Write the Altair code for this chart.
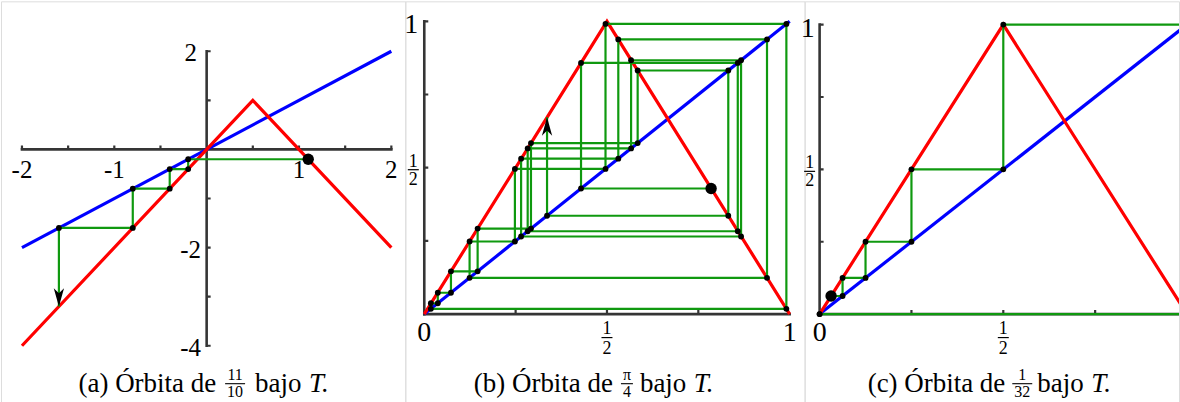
import altair as alt
import pandas as pd

# ------------------------------------------------------------------ values
# Orbits of the tent map T(x) = 2x (x <= 1/2), 2 - 2x (x > 1/2)
orbit_a = [1.1, -0.2, -0.4, -0.8, -1.6, -3.2]                  # x0 = 11/10
orbit_b = [0.785, 0.429, 0.858, 0.283, 0.566, 0.867, 0.265, 0.531,
           0.938, 0.124, 0.248, 0.496, 0.991, 0.018, 0.037, 0.073,
           0.146, 0.292, 0.584, 0.832, 0.336, 0.672]            # x0 = pi/4
orbit_c = [0.03125, 0.0625, 0.125, 0.25, 0.5, 1.0, 0.0, 0.0]    # x0 = 1/32

# Graphs of T and of the identity (polyline vertices)
tent_wide_x = [-2.0, 0.5, 2.0]
tent_wide_y = [-4.0, 1.0, -2.0]
ident_wide = [-2.0, 2.0]
tent_unit_x = [0.0, 0.5, 1.0]
tent_unit_y = [0.0, 1.0, 0.0]
ident_unit = [0.0, 1.0]

# Axis extents, ticks and tick labels
wide_x_range = [-2.0, 2.0]
wide_y_range = [-4.0, 2.0]
wide_xticks = [-2, -1.5, -1, -0.5, 0.5, 1, 1.5, 2]
wide_yticks = [-4, -3, -2, -1, 1, 2]
wide_xlabel_at = [-2, -1, 1, 2]
wide_xlabels = ["-2", "-1", "1", "2"]
wide_ylabel_at = [2, -2, -4]
wide_ylabels = ["2", "-2", "-4"]

unit_range = [0.0, 1.0]
unit_xticks = [0.25, 0.5, 0.75]
unit_yticks = [0.25, 0.5, 0.75, 1.0]
unit_xlabel_at = [0.0, 1.0]
unit_xlabels = ["0", "1"]
unit_ylabel_at = [1.0]
unit_ylabels = ["1"]
half_at = [0.5]
half_num = ["1"]
half_den = ["2"]

captions = ["(a) Órbita de", "(b) Órbita de", "(c) Órbita de"]
caption_num = ["11", "π", "1"]
caption_den = ["10", "4", "32"]
caption_tail = ["bajo", "bajo", "bajo"]
caption_var = ["T.", "T.", "T."]

# ------------------------------------------------------------------ style
FONT = "Liberation Serif"
RED, BLUE, GREEN, AXIS = "#ff0000", "#0000ff", "#0f990f", "#353535"
H = 402
TICK_PX = 4


def pixel_domain(v0, p0, v1, p1, size, vertical=False):
    """Domain whose linear map onto [0, size] px sends v0->p0 and v1->p1."""
    k = (v1 - v0) / (p1 - p0)
    at = lambda p: v0 + (p - p0) * k
    return [at(size), at(0)] if vertical else [at(0), at(size)]


def cobweb(orbit):
    xs, ys = [orbit[0]], [orbit[1]]
    for a, b in zip(orbit[1:-1], orbit[2:]):
        xs += [a, a]
        ys += [a, b]
    return pd.DataFrame({"x": xs, "y": ys, "k": range(len(xs))})


def build(p):
    xs = alt.Scale(domain=p["xdom"], nice=False, zero=False)
    ys = alt.Scale(domain=p["ydom"], nice=False, zero=False)
    X = lambda f: alt.X(f, type="quantitative", scale=xs, axis=None)
    Y = lambda f: alt.Y(f, type="quantitative", scale=ys, axis=None)
    layers = []

    # axes drawn as rules, ticks pointing inward
    tx = TICK_PX / p["ppx"]
    ty = TICK_PX / p["ppy"]
    (x_lo, x_hi), (y_lo, y_hi) = p["xr"], p["yr"]
    axis_df = pd.DataFrame({"x": [x_lo, 0.0], "y": [0.0, y_lo],
                            "x2": [x_hi, 0.0], "y2": [0.0, y_hi]})
    xt, yt = list(p["xticks"]), list(p["yticks"])
    tick_df = pd.DataFrame({"x": xt + [0.0] * len(yt),
                            "y": [0.0] * len(xt) + yt,
                            "x2": xt + [tx] * len(yt),
                            "y2": [ty] * len(xt) + yt})
    layers.append(alt.Chart(axis_df).mark_rule(color=AXIS, strokeWidth=2.6, strokeCap="square", clip=True)
                  .encode(x=X("x"), y=Y("y"), x2="x2", y2="y2"))
    layers.append(alt.Chart(tick_df).mark_rule(color=AXIS, strokeWidth=2.2, clip=True)
                  .encode(x=X("x"), y=Y("y"), x2="x2", y2="y2"))

    # identity and tent map
    ident = pd.DataFrame({"x": p["ident"], "y": p["ident"], "k": range(len(p["ident"]))})
    tent = pd.DataFrame({"x": p["tent_x"], "y": p["tent_y"], "k": range(len(p["tent_x"]))})
    layers.append(alt.Chart(ident).mark_line(color=BLUE, strokeWidth=3.2, clip=True)
                  .encode(x=X("x"), y=Y("y"), order="k:Q"))
    layers.append(alt.Chart(tent).mark_line(color=RED, strokeWidth=3.2, clip=True)
                  .encode(x=X("x"), y=Y("y"), order="k:Q"))

    # cobweb of the orbit
    web = cobweb(p["orbit"])
    layers.append(alt.Chart(web).mark_line(color=GREEN, strokeWidth=2.2, clip=True)
                  .encode(x=X("x"), y=Y("y"), order="k:Q"))
    dots = web.iloc[1:-1] if p["arrow"] else web.iloc[1:]
    layers.append(alt.Chart(dots).mark_circle(color="black", size=34, opacity=1, clip=True)
                  .encode(x=X("x"), y=Y("y")))
    layers.append(alt.Chart(web.iloc[:1]).mark_circle(color="black", size=130, opacity=1)
                  .encode(x=X("x"), y=Y("y")))
    if p["arrow"]:
        layers.append(alt.Chart(web.iloc[-1:]).mark_point(shape=p["arrow"], filled=True, color="black",
                                                           opacity=1, size=1350, strokeWidth=0)
                      .encode(x=X("x"), y=Y("y")))

    # tick labels
    xl = pd.DataFrame({"v": p["xlab_at"], "t": p["xlab"], "z": 0.0})
    yl = pd.DataFrame({"v": p["ylab_at"], "t": p["ylab"], "z": 0.0})
    layers.append(alt.Chart(xl).mark_text(font=FONT, fontSize=p["lab_fs"], baseline="alphabetic",
                                          align="center", dy=p["xlab_dy"], color="black", clip=True)
                  .encode(x=X("v"), y=Y("z"), text="t:N"))
    layers.append(alt.Chart(yl).mark_text(font=FONT, fontSize=p["lab_fs"], baseline="alphabetic",
                                          align="center", dx=p["ylab_dx"], dy=p["ylab_dy"], color="black")
                  .encode(x=X("z"), y=Y("v"), text="t:N"))

    # stacked fraction labels 1/2 on both axes
    if p["halves"]:
        hx = pd.DataFrame({"v": half_at, "n": half_num, "d": half_den, "z": 0.0})
        fs = 18
        # on the x axis
        layers.append(alt.Chart(hx).mark_text(font=FONT, fontSize=fs, baseline="alphabetic", dy=20)
                      .encode(x=X("v"), y=Y("z"), text="n:N"))
        layers.append(alt.Chart(hx).mark_text(font=FONT, fontSize=fs, baseline="alphabetic", dy=40)
                      .encode(x=X("v"), y=Y("z"), text="d:N"))
        layers.append(alt.Chart(hx).mark_rule(color="black", strokeWidth=1.2, xOffset=-5.5, x2Offset=5.5,
                                              yOffset=23.5)
                      .encode(x=X("v"), x2="v", y=Y("z")))
        # on the y axis
        hdx = p["half_dx"]
        layers.append(alt.Chart(hx).mark_text(font=FONT, fontSize=fs, baseline="alphabetic", dx=hdx, dy=-1)
                      .encode(x=X("z"), y=Y("v"), text="n:N"))
        layers.append(alt.Chart(hx).mark_text(font=FONT, fontSize=fs, baseline="alphabetic", dx=hdx, dy=17)
                      .encode(x=X("z"), y=Y("v"), text="d:N"))
        layers.append(alt.Chart(hx).mark_rule(color="black", strokeWidth=1.2, xOffset=hdx - 5.5,
                                              x2Offset=hdx + 5.5, yOffset=2)
                      .encode(x=X("z"), x2="z", y=Y("v")))

    # caption below the panel
    i = p["idx"]
    cx = p["cap_frac"]
    cap = pd.DataFrame({"a": [captions[i]], "n": [caption_num[i]], "d": [caption_den[i]],
                        "b": [caption_tail[i]], "t": [caption_var[i]]})
    cfs = 27
    layers.append(alt.Chart(cap).mark_text(font=FONT, fontSize=cfs, baseline="alphabetic", align="right")
                  .encode(x=alt.value(cx - p["cap_gap_l"]), y=alt.value(391), text="a:N"))
    layers.append(alt.Chart(cap).mark_text(font=FONT, fontSize=16, baseline="alphabetic", align="center")
                  .encode(x=alt.value(cx), y=alt.value(379), text="n:N"))
    layers.append(alt.Chart(cap).mark_text(font=FONT, fontSize=16, baseline="alphabetic", align="center")
                  .encode(x=alt.value(cx), y=alt.value(396), text="d:N"))
    layers.append(alt.Chart(cap).mark_rule(color="black", strokeWidth=1.1)
                  .encode(x=alt.value(cx - p["cap_bar"]), x2=alt.value(cx + p["cap_bar"]),
                          y=alt.value(383)))
    layers.append(alt.Chart(cap).mark_text(font=FONT, fontSize=cfs, baseline="alphabetic", align="left")
                  .encode(x=alt.value(cx + p["cap_gap_r"]), y=alt.value(391), text="b:N"))
    layers.append(alt.Chart(cap).mark_text(font=FONT, fontSize=cfs, baseline="alphabetic", align="left",
                                           fontStyle="italic")
                  .encode(x=alt.value(cx + p["cap_gap_r"] + 54), y=alt.value(391), text="t:N"))

    return alt.layer(*layers).properties(width=p["w"], height=H)


# ------------------------------------------------------------------ panels
WA, WB, WC = 405, 400, 375

panel_a = dict(
    idx=0, w=WA,
    xdom=pixel_domain(-2, 21, 2, 391, WA), ydom=pixel_domain(2, 50, -4, 345, H, True),
    ppx=370 / 4, ppy=295 / 6,
    xr=wide_x_range, yr=wide_y_range, xticks=wide_xticks, yticks=wide_yticks,
    ident=ident_wide, tent_x=tent_wide_x, tent_y=tent_wide_y, orbit=orbit_a,
    arrow="M0,0L-0.28,-1L0,-0.72L0.28,-1Z",
    xlab_at=wide_xlabel_at, xlab=wide_xlabels, ylab_at=wide_ylabel_at, ylab=wide_ylabels,
    lab_fs=25, xlab_dy=29, ylab_dx=-16, ylab_dy=10, halves=False, half_dx=0,
    cap_frac=234.5, cap_gap_l=19, cap_gap_r=20, cap_bar=10,
)

panel_b = dict(
    idx=1, w=WB,
    xdom=pixel_domain(0, 19, 1, 385, WB), ydom=pixel_domain(1, 20, 0, 313.3, H, True),
    ppx=366, ppy=293.3,
    xr=unit_range, yr=unit_range, xticks=unit_xticks, yticks=unit_yticks,
    ident=ident_unit, tent_x=tent_unit_x, tent_y=tent_unit_y, orbit=orbit_b,
    arrow="M0,0L-0.28,1L0,0.72L0.28,1Z",
    xlab_at=unit_xlabel_at, xlab=unit_xlabels, ylab_at=unit_ylabel_at, ylab=unit_ylabels,
    lab_fs=28, xlab_dy=27, ylab_dx=-13, ylab_dy=12, halves=True, half_dx=-11,
    cap_frac=222, cap_gap_l=14, cap_gap_r=13, cap_bar=6,
)

panel_c = dict(
    idx=2, w=WC,
    xdom=pixel_domain(0, 15, 0.5, 199, WC), ydom=pixel_domain(1, 23.3, 0, 313.3, H, True),
    ppx=368, ppy=290,
    xr=unit_range, yr=unit_range, xticks=unit_xticks, yticks=unit_yticks,
    ident=ident_unit, tent_x=tent_unit_x, tent_y=tent_unit_y, orbit=orbit_c,
    arrow=None,
    xlab_at=unit_xlabel_at, xlab=unit_xlabels, ylab_at=unit_ylabel_at, ylab=unit_ylabels,
    lab_fs=28, xlab_dy=27, ylab_dx=-12, ylab_dy=12, halves=True, half_dx=-10,
    cap_frac=218, cap_gap_l=17, cap_gap_r=15, cap_bar=10,
)

chart = (
    alt.hconcat(build(panel_a), build(panel_b), build(panel_c), spacing=0, bounds="flush", padding=0)
    .configure_view(stroke=None)
    .configure(background="white")
)

chart.save("out.html", embed_options={"renderer": "svg", "actions": False})
